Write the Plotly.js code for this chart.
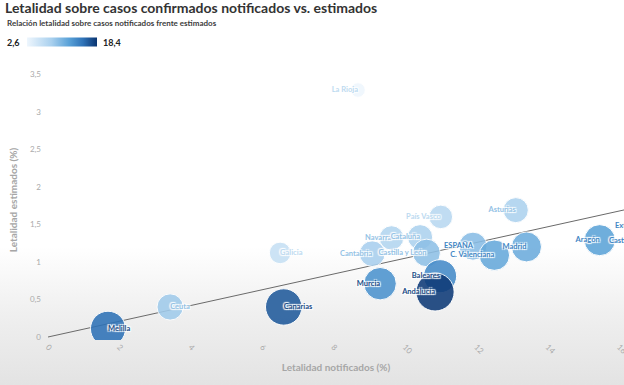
<!DOCTYPE html>
<html>
<head>
<meta charset="utf-8">
<script src="https://cdn.plot.ly/plotly-3.0.1.min.js"></script>
<style>
  html, body { margin: 0; padding: 0; }
  body { width: 624px; height: 385px; overflow: hidden;
    background: linear-gradient(to bottom, #ffffff 0%, #ffffff 64%, #efefef 82%, #e3e3e3 100%); }
  #chart { width: 624px; height: 385px; }
</style>
</head>
<body>
<div id="chart"></div>
<script>
// ---- data ----
const regions = ["La Rioja", "Galicia", "Ceuta", "Cantabria", "Navarra", "Cataluña", "Castilla y León",
  "País Vasco", "Asturias", "ESPAÑA", "Extremadura", "Madrid", "C. Valenciana", "Aragón",
  "Castilla-La Mancha", "Murcia", "Melilla", "Baleares", "Canarias", "Andalucía"];
const letalidadNotificados = [8.68, 6.5, 3.42, 9.08, 9.62, 10.42, 10.6,
  11.0, 13.1, 11.9, 16.35, 13.4, 12.5, 15.45,
  16.55, 9.3, 1.68, 10.98, 6.6, 10.84];
const letalidadEstimados = [3.29, 1.12, 0.40, 1.11, 1.32, 1.33, 1.12,
  1.60, 1.69, 1.21, 1.49, 1.20, 1.09, 1.29,
  1.29, 0.71, 0.11, 0.81, 0.40, 0.60];
const relacion = [2.6, 5.8, 8.6, 8.2, 7.4, 7.8, 9.5,
  6.9, 7.8, 9.8, 10.9, 11.2, 11.5, 12.0,
  12.8, 13.1, 15.3, 13.6, 16.5, 18.1];
const trendX = [0, 16.3];
const trendY = [0, 1.71];
const colorMin = 2.6, colorMax = 18.4;

// ---- styles ----
const xMax = 16.13;
const labelPos = ["middle left", "middle right", "middle right", "middle left", "middle left", "middle left", "middle left",
  "middle left", "middle left", "middle left", "middle center", "middle left", "middle left", "middle left",
  "middle center", "middle left", "middle right", "middle left", "middle right", "middle left"];
const scale = [[0, '#eef6fd'], [0.35, '#a9d0ee'], [0.6, '#5aa2d8'], [0.8, '#2f73b8'], [1, '#0a3470']];
function labelColor(v) {
  const t = (v - colorMin) / (colorMax - colorMin);
  if (t < 0.3) return '#bcdaf0';
  if (t < 0.45) return '#94c2e5';
  if (t < 0.65) return '#3f86c4';
  return '#1c4d86';
}
const FONT = 'Lato, "Open Sans", sans-serif';
const HALO = '1px 1px 1px #fff, -1px -1px 1px #fff, 1px -1px 1px #fff, -1px 1px 1px #fff';

// bubbles past the right edge get their (cut) label from an annotation instead
const inRangeLabels = regions.map(function (r, i) { return letalidadNotificados[i] > xMax ? '' : r; });

const traces = [
  { x: trendX, y: trendY, mode: 'lines', type: 'scatter',
    line: { color: '#6a6a6a', width: 1 }, hoverinfo: 'skip', showlegend: false },
  { x: letalidadNotificados, y: letalidadEstimados, mode: 'markers', type: 'scatter',
    text: regions, hoverinfo: 'text', showlegend: false, cliponaxis: true,
    marker: { size: relacion, sizemode: 'area', sizeref: 0.0249, color: relacion,
      cmin: colorMin, cmax: colorMax, colorscale: scale, opacity: 0.88,
      line: { color: '#ffffff', width: 1 },
      showscale: true,
      colorbar: { orientation: 'h', xref: 'container', yref: 'container',
        x: 29 / 624, xanchor: 'left', y: 1 - 42 / 385, yanchor: 'middle',
        len: 70, lenmode: 'pixels', thickness: 9, thicknessmode: 'pixels',
        outlinewidth: 0, showticklabels: false, ticks: '', xpad: 0, ypad: 0 } } },
  { x: letalidadNotificados, y: letalidadEstimados, mode: 'text', type: 'scatter',
    text: inRangeLabels, textposition: labelPos, hoverinfo: 'skip', showlegend: false, cliponaxis: false,
    textfont: { family: FONT, size: 7.5, weight: 'bold', color: relacion.map(labelColor), shadow: HALO } }
];

const edgeLabels = [];
letalidadNotificados.forEach(function (xv, i) {
  if (xv > xMax) {
    edgeLabels.push({ text: regions[i], xref: 'x', yref: 'y', x: xMax - 0.01, y: letalidadEstimados[i],
      xanchor: 'left', yanchor: 'middle', xshift: i === 10 ? -11 : -17, showarrow: false,
      font: { family: FONT, size: 7.5, weight: 'bold', color: labelColor(relacion[i]), shadow: HALO } });
  }
});

const layout = {
  width: 624, height: 385,
  margin: { l: 48, r: 0, t: 60, b: 45 },
  paper_bgcolor: 'rgba(0,0,0,0)', plot_bgcolor: 'rgba(0,0,0,0)',
  separators: ',.',
  font: { family: FONT, color: '#999' },
  title: { text: 'Letalidad sobre casos confirmados notificados vs. estimados',
    x: 5 / 624, xref: 'container', xanchor: 'left', y: 1 - 8 / 385, yref: 'container', yanchor: 'middle',
    font: { family: FONT, size: 14, weight: 'bold', color: '#333333' } },
  xaxis: { range: [0, xMax], showgrid: false, zeroline: false, showline: false,
    tickmode: 'linear', tick0: 0, dtick: 2, tickangle: 45, ticks: '', ticklabeloverflow: 'allow',
    tickfont: { family: FONT, size: 8, color: '#aaaaaa' },
    title: { text: 'Letalidad notificados (%)', standoff: 8,
      font: { family: FONT, size: 10, weight: 'bold', color: '#a6a6a6' } } },
  yaxis: { range: [-0.04, 3.69], showgrid: false, zeroline: false, showline: false,
    tickmode: 'linear', tick0: 0, dtick: 0.5, ticks: '', ticklabelstandoff: 6,
    tickfont: { family: FONT, size: 8, color: '#aaaaaa' },
    title: { text: 'Letalidad estimados (%)', standoff: 10,
      font: { family: FONT, size: 10, weight: 'bold', color: '#a6a6a6' } } },
  annotations: [
    { text: 'Relación letalidad sobre casos notificados frente estimados', xref: 'paper', yref: 'paper',
      x: -43 / 576, xanchor: 'left', y: 1 + 37 / 280, yanchor: 'middle', showarrow: false,
      font: { family: FONT, size: 8, weight: 'bold', color: '#3c3c3c' } },
    { text: '2,6', xref: 'paper', yref: 'paper', x: -43 / 576, xanchor: 'left',
      y: 1 + 18 / 280, yanchor: 'middle', showarrow: false,
      font: { family: FONT, size: 9, weight: 'bold', color: '#222' } },
    { text: '18,4', xref: 'paper', yref: 'paper', x: 53 / 576, xanchor: 'left',
      y: 1 + 18 / 280, yanchor: 'middle', showarrow: false,
      font: { family: FONT, size: 9, weight: 'bold', color: '#222' } }
  ].concat(edgeLabels)
};

Plotly.newPlot('chart', traces, layout, { displayModeBar: false, staticPlot: true });
</script>
</body>
</html>
